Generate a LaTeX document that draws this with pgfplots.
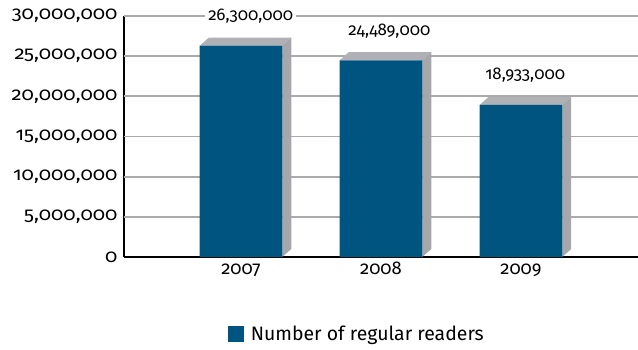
\documentclass[border=0pt]{standalone}
\usepackage{pgfplots}
\pgfplotsset{compat=1.18}
\usepackage{fontspec}
\setmainfont{Fira Sans}[Numbers=OldStyle]
\newfontfamily\ytickfont{Fira Sans}[Numbers=OldStyle, FakeStretch=1.1]
\definecolor{barblue}{RGB}{0,85,128}
\definecolor{sidegray}{RGB}{165,167,170}
\definecolor{topgray}{RGB}{175,177,180}
\definecolor{gridgray}{RGB}{170,170,170}
\begin{document}
\begin{tikzpicture}
\begin{axis}[
  at={(0,0)}, anchor=south west,
  scale only axis,
  width=514bp, height=241bp,
  xmin=-0.836, xmax=2.836,
  ymin=0, ymax=30000000,
  axis x line=bottom, axis y line=left,
  axis line style={-, line width=2pt, black},
  xtick={0,1,2}, xticklabels={2007,2008,2009},
  ytick={0,5000000,10000000,15000000,20000000,25000000,30000000},
  scaled y ticks=false,
  /pgf/number format/fixed,
  /pgf/number format/1000 sep={,},
  /pgf/number format/assume math mode=true,
  major tick length=0pt,
  xticklabel style={font=\fontsize{18.5}{20}\selectfont, text height=12bp, text depth=5bp, yshift=-2bp},
  yticklabel style={font=\ytickfont\fontsize{18.5}{20}\selectfont, xshift=-3bp},
  legend style={at={(rel axis cs:0.453,-0.32)}, anchor=center, draw=none, fill=none,
    font=\fontsize{19.5}{22}\selectfont, legend cell align=left},
  legend image code/.code={\fill[barblue] (0bp,-8bp) rectangle (16bp,8bp);},
  clip=false,
]
% grid lines (thin filled bands)
\addplot[fill=gridgray, draw=none, forget plot] coordinates {(-0.836,4880000) (2.836,4880000) (2.836,5120000) (-0.836,5120000)} -- cycle;
\addplot[fill=gridgray, draw=none, forget plot] coordinates {(-0.836,9880000) (2.836,9880000) (2.836,10120000) (-0.836,10120000)} -- cycle;
\addplot[fill=gridgray, draw=none, forget plot] coordinates {(-0.836,14880000) (2.836,14880000) (2.836,15120000) (-0.836,15120000)} -- cycle;
\addplot[fill=gridgray, draw=none, forget plot] coordinates {(-0.836,19880000) (2.836,19880000) (2.836,20120000) (-0.836,20120000)} -- cycle;
\addplot[fill=gridgray, draw=none, forget plot] coordinates {(-0.836,24880000) (2.836,24880000) (2.836,25120000) (-0.836,25120000)} -- cycle;
\addplot[fill=gridgray, draw=none, forget plot] coordinates {(-0.836,29880000) (2.836,29880000) (2.836,30120000) (-0.836,30120000)} -- cycle;
% 3D top and side faces
\addplot[fill=topgray, draw=none, forget plot] coordinates {(-0.295,26300000) (-0.231,27300000) (0.359,27300000) (0.295,26300000)} -- cycle;
\addplot[fill=sidegray, draw=none, forget plot] coordinates {(0.295,26300000) (0.359,27300000) (0.359,1000000) (0.295,0)} -- cycle;
\addplot[fill=topgray, draw=none, forget plot] coordinates {(0.705,24489000) (0.769,25489000) (1.359,25489000) (1.295,24489000)} -- cycle;
\addplot[fill=sidegray, draw=none, forget plot] coordinates {(1.295,24489000) (1.359,25489000) (1.359,1000000) (1.295,0)} -- cycle;
\addplot[fill=topgray, draw=none, forget plot] coordinates {(1.705,18933000) (1.769,19933000) (2.359,19933000) (2.295,18933000)} -- cycle;
\addplot[fill=sidegray, draw=none, forget plot] coordinates {(2.295,18933000) (2.359,19933000) (2.359,1000000) (2.295,0)} -- cycle;
% front faces
\addplot[ybar, bar width=0.59, fill=barblue, draw=none] coordinates {(0,26300000) (1,24489000) (2,18933000)};
\addlegendentry{\hspace{5bp}Number of regular readers}
\node[fill=white, inner sep=3bp, text height=11bp, text depth=4bp, font=\fontsize{17}{19}\selectfont] at (axis cs:0.07,29900000) {26,300,000};
\node[fill=white, inner sep=3bp, text height=11bp, text depth=4bp, font=\fontsize{17}{19}\selectfont] at (axis cs:1.06,28000000) {24,489,000};
\node[fill=white, inner sep=3bp, text height=11bp, text depth=4bp, font=\fontsize{17}{19}\selectfont] at (axis cs:2.03,22500000) {18,933,000};
\end{axis}
\pgfresetboundingbox
\useasboundingbox (-124bp,-93bp) rectangle (514bp,257bp);
\end{tikzpicture}
\end{document}
